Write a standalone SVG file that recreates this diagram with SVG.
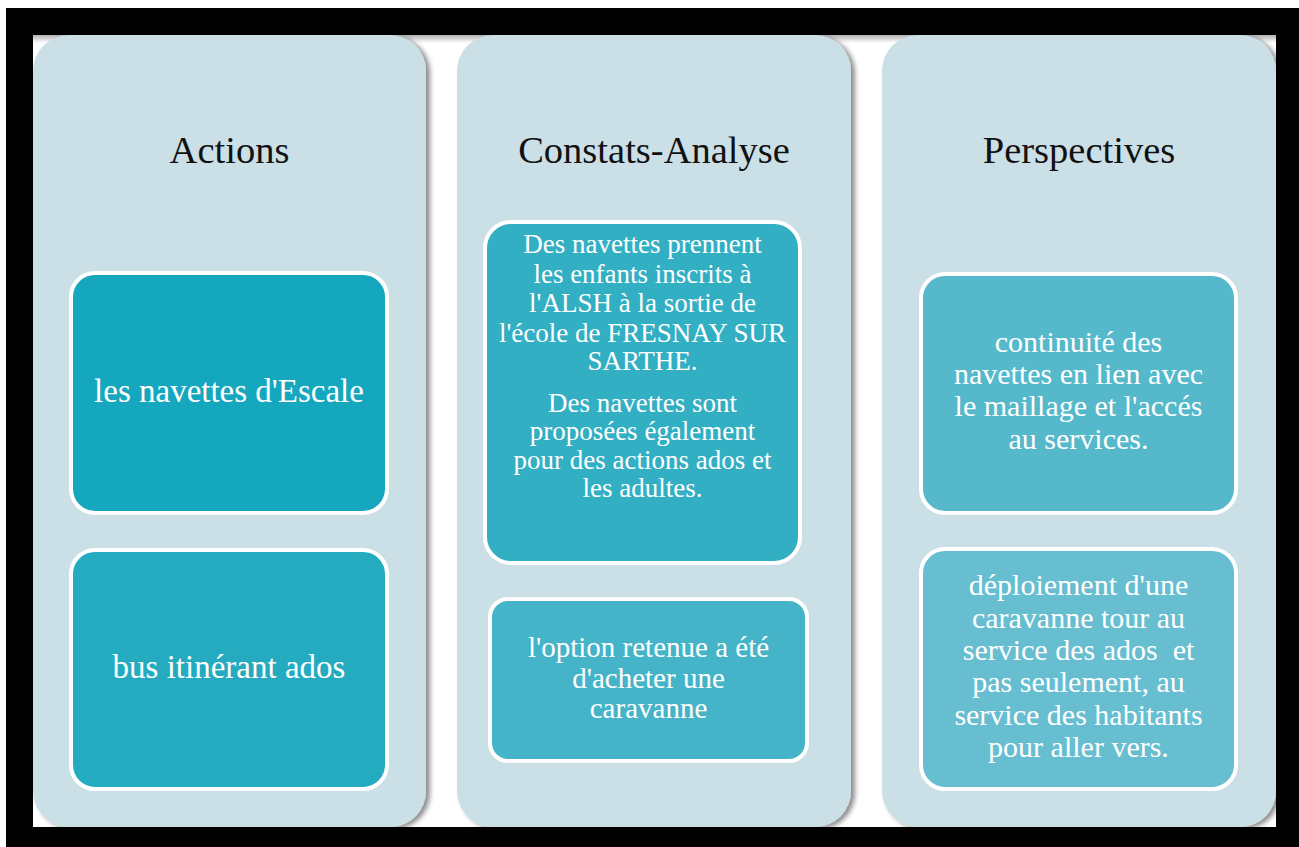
<svg xmlns="http://www.w3.org/2000/svg" width="1299" height="847" viewBox="0 0 1299 847">
<style>
.col{fill:#cadfe6;}
.hdr{font-family:"Liberation Serif","Times New Roman",serif;font-size:38.5px;fill:#111;text-anchor:middle;}
.box{stroke:#ffffff;stroke-width:4;}
.t{font-family:"Liberation Serif","Times New Roman",serif;fill:#ffffff;text-anchor:middle;white-space:pre;}
</style>
<defs>
<filter id="sh" x="-10%" y="-10%" width="120%" height="120%">
<feDropShadow dx="4" dy="2" stdDeviation="2.5" flood-color="#000" flood-opacity="0.45"/>
</filter>
<clipPath id="inner"><rect x="33" y="35" width="1243" height="792"/></clipPath>
<linearGradient id="topsh" x1="0" y1="0" x2="0" y2="1">
<stop offset="0" stop-color="#000" stop-opacity="0.3"/>
<stop offset="1" stop-color="#000" stop-opacity="0"/>
</linearGradient>
</defs>
<rect x="0" y="0" width="1299" height="847" fill="#ffffff"/>
<rect x="6" y="8" width="1293" height="839" fill="#000000"/>
<rect x="33" y="35" width="1243" height="792" fill="#ffffff"/>
<rect x="33" y="35" width="1243" height="8" fill="url(#topsh)"/>
<g clip-path="url(#inner)">
<g id="col-actions">
<rect class="col" x="33" y="35" width="393" height="792" rx="36" filter="url(#sh)"/>
<text class="hdr" x="229.5" y="163">Actions</text>
</g>
<g id="col-constats">
<rect class="col" x="457" y="35" width="394" height="792" rx="36" filter="url(#sh)"/>
<text class="hdr" x="654" y="163">Constats-Analyse</text>
</g>
<g id="col-perspectives">
<rect class="col" x="882" y="35" width="394" height="792" rx="36" filter="url(#sh)"/>
<text class="hdr" x="1079" y="163">Perspectives</text>
</g>
</g>
<g id="node-navettes">
<rect class="box" x="71" y="273" width="316" height="240" rx="24" fill="#15a7be"/>
<text class="t" x="229" y="402" font-size="33">les navettes d'Escale</text>
</g>
<g id="node-bus">
<rect class="box" x="71" y="550" width="316" height="239" rx="24" fill="#24abc0"/>
<text class="t" x="229" y="678" font-size="33">bus itinérant ados</text>
</g>
<g id="node-constat1">
<rect class="box" x="485" y="222" width="315" height="341" rx="26" fill="#33afc3"/>
<text class="t" font-size="27"><tspan x="642.5" y="253">Des navettes prennent</tspan><tspan x="642.5" y="283">les enfants inscrits à</tspan><tspan x="642.5" y="312">l'ALSH à la sortie de</tspan><tspan x="642.5" y="342">l'école de FRESNAY SUR</tspan><tspan x="642.5" y="370">SARTHE.</tspan><tspan x="642.5" y="412">Des navettes sont</tspan><tspan x="642.5" y="440">proposées également</tspan><tspan x="642.5" y="469">pour des actions ados et</tspan><tspan x="642.5" y="497">les adultes.</tspan></text>
</g>
<g id="node-constat2">
<rect class="box" x="490" y="599" width="317" height="162" rx="18" fill="#45b4c8"/>
<text class="t" font-size="29"><tspan x="648.5" y="657">l'option retenue a été</tspan><tspan x="648.5" y="688">d'acheter une</tspan><tspan x="648.5" y="718">caravanne</tspan></text>
</g>
<g id="node-persp1">
<rect class="box" x="921" y="274" width="315" height="239" rx="24" fill="#55b9cb"/>
<text class="t" font-size="30"><tspan x="1078.5" y="352">continuité des</tspan><tspan x="1078.5" y="384">navettes en lien avec</tspan><tspan x="1078.5" y="416">le maillage et l'accés</tspan><tspan x="1078.5" y="449">au services.</tspan></text>
</g>
<g id="node-persp2">
<rect class="box" x="921" y="549" width="315" height="240" rx="24" fill="#66bed0"/>
<text class="t" font-size="30"><tspan x="1078.5" y="595">déploiement d'une</tspan><tspan x="1078.5" y="628">caravanne tour au</tspan><tspan x="1078.5" y="660">service des ados  et</tspan><tspan x="1078.5" y="692">pas seulement, au</tspan><tspan x="1078.5" y="725">service des habitants</tspan><tspan x="1078.5" y="757">pour aller vers.</tspan></text>
</g>
<g id="connectors"></g>
</svg>
